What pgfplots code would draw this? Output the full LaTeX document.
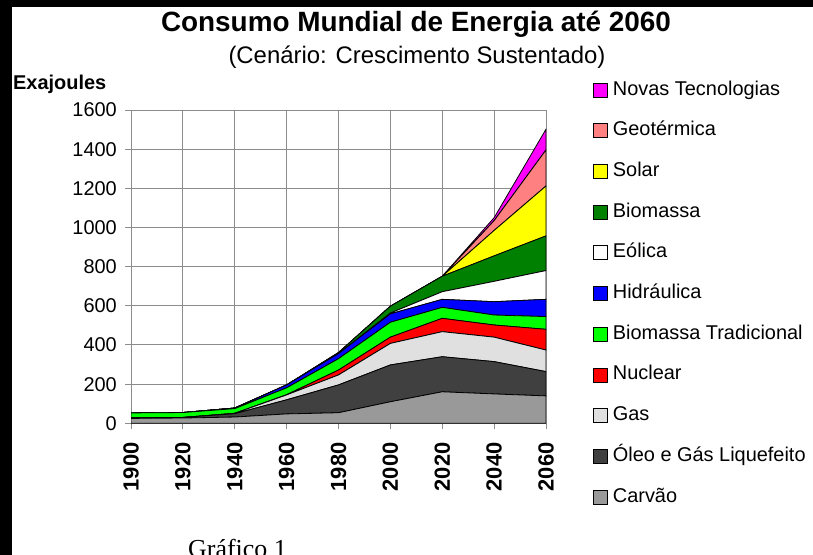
\documentclass[border=0pt]{standalone}
\usepackage{pgfplots}
\pgfplotsset{compat=1.18}
\usepackage{pgfplotstable}
\usepackage{fontspec}
\setmainfont{Liberation Sans}
\newfontfamily\seriffont{Liberation Serif}
\definecolor{gridgray}{RGB}{140,140,140}
\definecolor{ccarvao}{RGB}{153,153,153}
\definecolor{coleo}{RGB}{64,64,64}
\definecolor{cgas}{RGB}{224,224,224}
\definecolor{cnuclear}{RGB}{255,0,0}
\definecolor{cbiotrad}{RGB}{0,255,0}
\definecolor{chidr}{RGB}{0,0,255}
\definecolor{ceolica}{RGB}{255,255,255}
\definecolor{cbiomassa}{RGB}{0,128,0}
\definecolor{csolar}{RGB}{255,255,0}
\definecolor{cgeo}{RGB}{255,128,128}
\definecolor{cnovas}{RGB}{255,0,255}

\pgfplotstableread{
year carvao oleo gas nuclear biotrad hidr eolica biomassa solar geo novas
1900 25 3 0 0 25 0 0 0 0 0 0
1920 27 3 0 0 25 0 0 0 0 0 0
1940 32 17 2 0 24 3 0 0 0 0 0
1960 48 72 25 1 35 15 0 0 0 0 0
1980 54 142 51 25 58 26 0 5 0 0 0
2000 110 188 110 32 76 43 4 35 0 0 0
2020 161 179 128 68 56 41 39 79 0 0 0
2040 150 165 125 62 51 68 104 130 130 50 15
2060 140 124 110 106 65 88 147 177 255 184 106
}\data

\begin{document}
\begin{tikzpicture}[x=1bp,y=1bp]
\useasboundingbox (0,0) rectangle (813,-555);
\fill[white] (0,0) rectangle (813,-555);
\fill[black] (0,0) rectangle (12,-555);
\fill[black] (0,0) rectangle (813,-7);
\node[anchor=base, inner sep=0pt, font=\bfseries\fontsize{28}{28}\selectfont] at (416,-32) {Consumo Mundial de Energia até 2060};
\node[anchor=base, inner sep=0pt, font=\fontsize{24}{24}\selectfont] at (417,-64) {(Cenário: Crescimento Sustentado)};
\node[anchor=base west, inner sep=0pt, font=\bfseries\fontsize{20}{20}\selectfont] at (13,-90) {Exajoules};
\node[anchor=base west, inner sep=0pt, font=\seriffont\fontsize{26}{26}\selectfont] at (188,-557) {Gráfico 1};
\begin{axis}[
  at={(131bp,-423.3bp)}, anchor=south west,
  scale only axis, width=415bp, height=313.3bp,
  xmin=1900, xmax=2060, ymin=0, ymax=1600,
  xtick={1900,1920,...,2060}, ytick={0,200,...,1600},
  grid=major, grid style={gridgray, line width=1bp},
  axis line style={gridgray, line width=1bp},
  tick pos=left, tick align=outside, major tick length=6bp,
  tick style={gridgray, line width=1bp},
  stack plots=y,
  /pgf/number format/assume math mode=true,
  /pgf/number format/1000 sep={},
  xticklabel style={rotate=90, anchor=east, inner sep=0pt, font=\bfseries\fontsize{22}{22}\selectfont},
  yticklabel style={anchor=east, inner sep=0pt, font=\fontsize{20}{20}\selectfont},
  xticklabel shift=13bp, yticklabel shift=8bp,
  reverse legend,
  legend cell align=left,
  legend style={at={(1.113,1.093)}, anchor=north west, draw=none, fill=none,
    inner sep=0pt, row sep=22.7bp, column sep=5bp,
    font=\fontsize{20}{20}\selectfont,
    nodes={inner sep=0pt, text height=14bp, text depth=4bp}},
  legend image code/.code={\draw[#1, draw=black, line width=0.8bp] (0bp,-7bp) rectangle (14bp,7bp);},
]
\addplot[fill=ccarvao, draw=black, line width=0.8bp] table[x=year, y=carvao] {\data} \closedcycle;
\addlegendentry{Carvão}
\addplot[fill=coleo, draw=black, line width=0.8bp] table[x=year, y=oleo] {\data} \closedcycle;
\addlegendentry{Óleo e Gás Liquefeito}
\addplot[fill=cgas, draw=black, line width=0.8bp] table[x=year, y=gas] {\data} \closedcycle;
\addlegendentry{Gas}
\addplot[fill=cnuclear, draw=black, line width=0.8bp] table[x=year, y=nuclear] {\data} \closedcycle;
\addlegendentry{Nuclear}
\addplot[fill=cbiotrad, draw=black, line width=0.8bp] table[x=year, y=biotrad] {\data} \closedcycle;
\addlegendentry{Biomassa Tradicional}
\addplot[fill=chidr, draw=black, line width=0.8bp] table[x=year, y=hidr] {\data} \closedcycle;
\addlegendentry{Hidráulica}
\addplot[fill=ceolica, draw=black, line width=0.8bp] table[x=year, y=eolica] {\data} \closedcycle;
\addlegendentry{Eólica}
\addplot[fill=cbiomassa, draw=black, line width=0.8bp] table[x=year, y=biomassa] {\data} \closedcycle;
\addlegendentry{Biomassa}
\addplot[fill=csolar, draw=black, line width=0.8bp] table[x=year, y=solar] {\data} \closedcycle;
\addlegendentry{Solar}
\addplot[fill=cgeo, draw=black, line width=0.8bp] table[x=year, y=geo] {\data} \closedcycle;
\addlegendentry{Geotérmica}
\addplot[fill=cnovas, draw=black, line width=0.8bp] table[x=year, y=novas] {\data} \closedcycle;
\addlegendentry{Novas Tecnologias}
\end{axis}
\end{tikzpicture}
\end{document}
